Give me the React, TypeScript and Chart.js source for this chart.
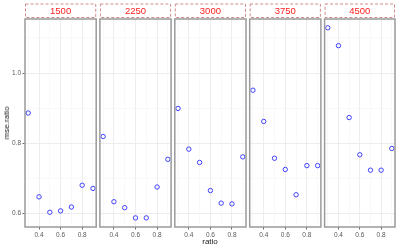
import React, { useEffect, useRef } from "react";
import { Chart, registerables } from "chart.js";
Chart.register(...registerables);

const panelLabels = ["1500", "2250", "3000", "3750", "4500"];
const ratios = [0.3, 0.4, 0.5, 0.6, 0.7, 0.8, 0.9];
const mse1500 = [0.886, 0.647, 0.603, 0.607, 0.618, 0.68, 0.671];
const mse2250 = [0.819, 0.633, 0.616, 0.587, 0.587, 0.675, 0.754];
const mse3000 = [0.899, 0.783, 0.745, 0.665, 0.629, 0.627, 0.761];
const mse3750 = [0.951, 0.862, 0.757, 0.725, 0.653, 0.736, 0.736];
const mse4500 = [1.129, 1.078, 0.873, 0.767, 0.723, 0.723, 0.785];
const seriesList = [mse1500, mse2250, mse3000, mse3750, mse4500];
const xTickValues = [0.3, 0.4, 0.5, 0.6, 0.7, 0.8, 0.9];
const xMajor = [0.4, 0.6, 0.8];
const yTickValues = [0.6, 0.7, 0.8, 0.9, 1.0, 1.1];
const yMajor = [0.6, 0.8, 1.0];

const X_MIN = 0.27;
const X_MAX = 0.93;
const Y_MIN = 0.561;
const Y_MAX = 1.154;

const PLOT_TOP = 19;
const PLOT_BOTTOM = 227;
const FIRST_LEFT = 25;
const PANEL_W = 71.2;
const PANEL_STEP = 74.9;
const W = 400;
const H = 250;
const FONT = '"Liberation Sans", Arial, sans-serif';

const isIn = (arr: number[], v: number) => arr.some((a) => Math.abs(a - v) < 1e-6);

const facetPlugin = {
  id: "facet",
  afterDraw(chart: any, _args: any, opts: any) {
    const { ctx, chartArea } = chart;
    const { left, top, right, bottom } = chartArea;
    ctx.save();
    ctx.strokeStyle = "#9a9a9a";
    ctx.lineWidth = 1.5;
    ctx.strokeRect(left, top, right - left, bottom - top);
    ctx.setLineDash([3, 2]);
    ctx.strokeStyle = "#d08c8c";
    ctx.lineWidth = 1;
    ctx.strokeRect(left + 0.5, 4, right - left - 1, 13.5);
    ctx.setLineDash([]);
    ctx.fillStyle = "#ff2020";
    ctx.font = "9.5px " + FONT;
    ctx.textAlign = "center";
    ctx.textBaseline = "middle";
    ctx.fillText(opts.label, (left + right) / 2, 11);
    ctx.restore();
  },
};

function Panel({ index }: { index: number }) {
  const ref = useRef<HTMLCanvasElement | null>(null);
  useEffect(() => {
    if (!ref.current) return;
    const left = FIRST_LEFT + index * PANEL_STEP;
    const right = left + PANEL_W;
    const first = index === 0;
    const data = ratios.map((r, i) => ({ x: r, y: seriesList[index][i] }));
    const chart = new Chart(ref.current, {
      type: "scatter",
      data: {
        datasets: [
          {
            data,
            pointStyle: "circle",
            pointRadius: 2.2,
            pointBorderWidth: 1,
            pointBorderColor: "#4040ff",
            pointBackgroundColor: "rgba(0,0,0,0)",
          },
        ],
      },
      options: {
        animation: false,
        responsive: false,
        events: [],
        layout: { padding: { top: PLOT_TOP, right: W - right, bottom: 0, left: 0 } },
        plugins: {
          legend: { display: false },
          tooltip: { enabled: false },
          facet: { label: panelLabels[index] },
        } as any,
        scales: {
          x: {
            type: "linear",
            min: X_MIN,
            max: X_MAX,
            afterFit: (s: any) => {
              s.height = H - PLOT_BOTTOM;
            },
            afterBuildTicks: (s: any) => {
              s.ticks = xTickValues.map((v) => ({ value: v }));
            },
            border: { display: false },
            grid: {
              color: (c: any) => (isIn(xMajor, c.tick?.value) ? "#ebebeb" : "#f3f3f3"),
              lineWidth: (c: any) => (isIn(xMajor, c.tick?.value) ? 0.9 : 0.5),
              drawTicks: true,
              tickLength: 2.5,
              tickColor: (c: any) => (isIn(xMajor, c.tick?.value) ? "#444" : "rgba(0,0,0,0)"),
              tickWidth: 0.8,
            },
            ticks: {
              autoSkip: false,
              maxRotation: 0,
              padding: 1.5,
              color: "#5a5a5a",
              font: { size: 6.5, family: FONT },
              callback: (v: any) => (isIn(xMajor, Number(v)) ? Number(v).toFixed(1) : ""),
            },
          },
          y: {
            type: "linear",
            min: Y_MIN,
            max: Y_MAX,
            afterFit: (s: any) => {
              s.width = left;
            },
            afterBuildTicks: (s: any) => {
              s.ticks = yTickValues.map((v) => ({ value: v }));
            },
            border: { display: false },
            grid: {
              color: (c: any) => (isIn(yMajor, c.tick?.value) ? "#ebebeb" : "#f3f3f3"),
              lineWidth: (c: any) => (isIn(yMajor, c.tick?.value) ? 0.9 : 0.5),
              drawTicks: first,
              tickLength: 2.5,
              tickColor: (c: any) => (isIn(yMajor, c.tick?.value) ? "#444" : "rgba(0,0,0,0)"),
              tickWidth: 0.8,
            },
            ticks: {
              display: first,
              autoSkip: false,
              padding: 1.5,
              color: "#5a5a5a",
              font: { size: 6.5, family: FONT },
              callback: (v: any) => (isIn(yMajor, Number(v)) ? Number(v).toFixed(1) : ""),
            },
          },
        },
      },
      plugins: [facetPlugin],
    } as any);
    return () => chart.destroy();
  }, [index]);
  return (
    <canvas
      ref={ref}
      width={W}
      height={H}
      style={{ position: "absolute", left: 0, top: 0, width: W, height: H }}
    />
  );
}

export default function App() {
  return (
    <div
      style={{
        position: "fixed",
        left: 0,
        top: 0,
        width: W,
        height: H,
        background: "#fff",
        overflow: "hidden",
      }}
    >
      {panelLabels.map((_, i) => (
        <Panel key={i} index={i} />
      ))}
      <div
        style={{
          position: "absolute",
          left: 0,
          width: 420,
          top: 236,
          textAlign: "center",
          font: "8px " + FONT,
          color: "#222",
          lineHeight: "12px",
        }}
      >
        ratio
      </div>
      <div
        style={{
          position: "absolute",
          left: 7,
          top: 123,
          transform: "translate(-50%, -50%) rotate(-90deg)",
          font: "8px " + FONT,
          color: "#222",
          whiteSpace: "nowrap",
          lineHeight: "10px",
        }}
      >
        mse.ratio
      </div>
    </div>
  );
}
